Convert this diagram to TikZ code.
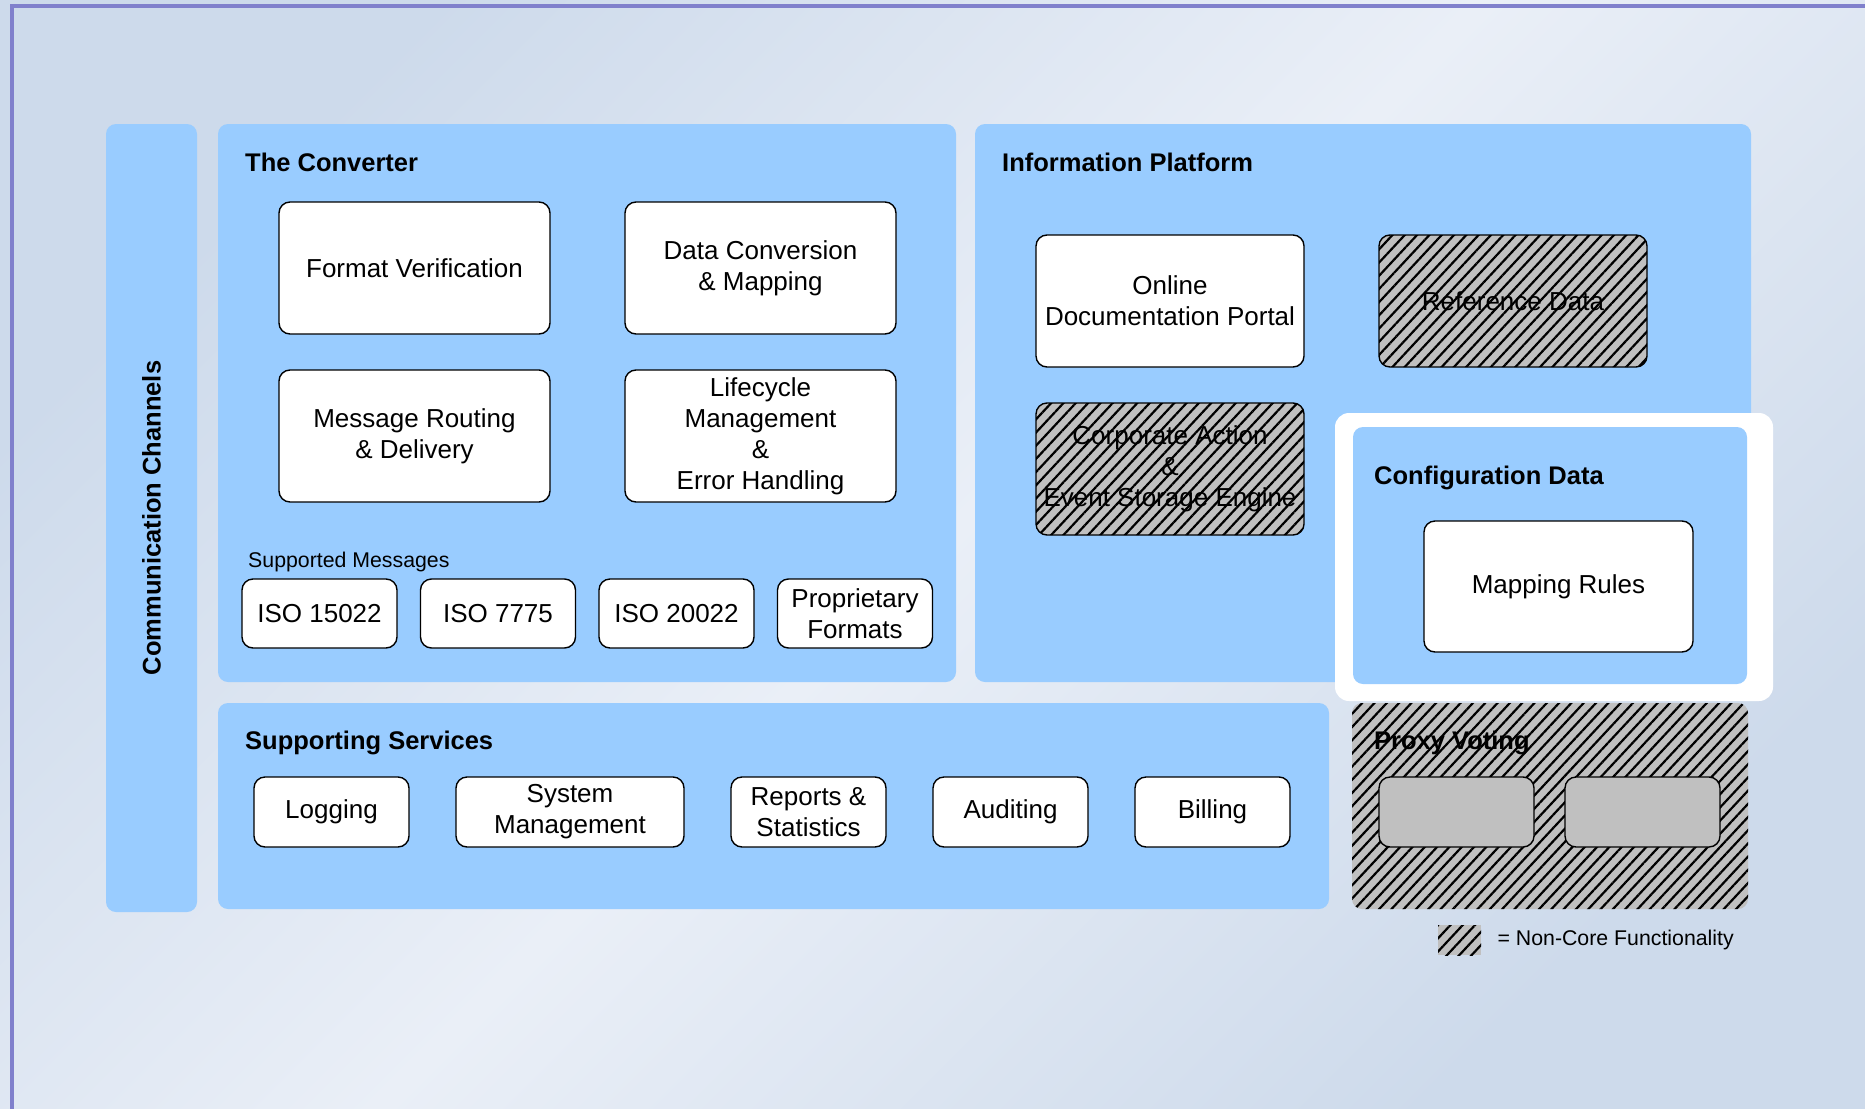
\documentclass[tikz,border=0pt]{standalone}
\usepackage{fontspec}
\setmainfont{Liberation Sans}
\usetikzlibrary{positioning, patterns.meta}

\definecolor{panelblue}{RGB}{153,204,255}
\definecolor{hatchgray}{RGB}{192,192,192}
\definecolor{bgdark}{RGB}{205,218,235}
\definecolor{bglight}{RGB}{234,239,247}
\definecolor{framepurple}{RGB}{128,128,204}

\newcommand{\blockfont}{\fontsize{26}{31}\selectfont}
\newcommand{\panelheadfont}{\fontsize{25.5}{30}\selectfont\bfseries}
\newcommand{\smallnotefont}{\fontsize{21.3}{25}\selectfont}

\begin{document}
\begin{tikzpicture}[x=1pt, y=-1pt,
    panel/.style={fill=panelblue, rounded corners=10pt, inner sep=0pt, outer sep=0pt, anchor=north west},
    block/.style={draw, line width=1.4pt, fill=white, rounded corners=11pt, align=center,
        font=\blockfont, inner sep=0pt, outer sep=0pt, anchor=north west, minimum width=271pt, minimum height=132pt},
    small block/.style={block, minimum width=155pt, minimum height=69pt},
    noncore/.style={preaction={fill=hatchgray},
        pattern={Lines[angle=47, distance=9pt, line width=2.2pt]}, pattern color=black},
    heading/.style={font=\panelheadfont, anchor=base west, inner sep=0pt}]

    \useasboundingbox (0,0) rectangle (1865,1108);
    \clip (0,0) rectangle (1865,1108);
    \shade[left color=bgdark, right color=bgdark, middle color=bglight, shading angle=45]
        (0,0) rectangle (1865,1108);
    \draw[framepurple, line width=3.5pt] (12,1130) -- (12,6) -- (1890,6);

    % panels
    \node[panel, minimum width=91pt, minimum height=788pt] (comm) at (106,124) {};
    \node[rotate=90, font=\panelheadfont] (commtitle) at (comm.center) {Communication Channels};
    \node[panel, minimum width=738pt, minimum height=558pt] (conv) at (218,124) {};
    \node[heading] (convtitle) at ([xshift=27pt, yshift=-47pt]conv.north west) {The Converter};
    \node[panel, minimum width=776pt, minimum height=558pt] (info) at (975,124) {};
    \node[heading] (infotitle) at ([xshift=27pt, yshift=-47pt]info.north west) {Information Platform};
    \node[panel, fill=white, rounded corners=14pt, minimum width=438pt, minimum height=288pt] (cfgframe) at (1335,413) {};
    \node[panel, minimum width=394pt, minimum height=257pt] (cfg) at (1353,427) {};
    \node[heading] (cfgtitle) at ([xshift=21pt, yshift=-57pt]cfg.north west) {Configuration Data};
    \node[panel, minimum width=1111pt, minimum height=206pt] (supp) at (218,703) {};
    \node[heading] (supptitle) at ([xshift=27pt, yshift=-46pt]supp.north west) {Supporting Services};
    \node[panel, noncore, minimum width=396pt, minimum height=206pt] (proxy) at (1352,703) {};
    \node[heading] (proxytitle) at ([xshift=22pt, yshift=-46pt]proxy.north west) {Proxy Voting};

    % the converter
    \node[block] (fmtver) at (279,202) {Format Verification};
    \node[block, right=75pt of fmtver] (dataconv) {Data Conversion\\\& Mapping};
    \node[block, below=36pt of fmtver] (msgroute) {Message Routing\\\& Delivery};
    \node[block, below=36pt of dataconv] (lifecycle) {Lifecycle\\Management\\\&\\Error Handling};
    \node[font=\smallnotefont, anchor=base west, inner sep=0pt] (suplabel) at (248,567) {Supported Messages};
    \node[small block] (iso15022) at (242,579) {ISO 15022};
    \node[small block, right=23.5pt of iso15022] (iso7775) {ISO 7775};
    \node[small block, right=23.5pt of iso7775] (iso20022) {ISO 20022};
    \node[small block, right=23.5pt of iso20022] (proprietary) {Proprietary\\Formats};

    % information platform
    \node[block, minimum width=268pt] (portal) at (1036,235) {Online\\Documentation Portal};
    \node[block, noncore, minimum width=268pt, right=75pt of portal] (refdata) {Reference Data};
    \node[block, noncore, minimum width=268pt, below=36pt of portal] (corpact) {Corporate Action\\\&\\Event Storage Engine};
    \node[block, minimum width=269pt, minimum height=131pt] (maprules) at (1424,521) {Mapping Rules};

    % supporting services
    \node[small block, minimum height=70pt] (logging) at (254,777) {Logging};
    \node[small block, minimum height=70pt, minimum width=228pt, right=47pt of logging] (sysmgmt) {System\\Management};
    \node[small block, minimum height=70pt, right=47pt of sysmgmt] (reports) {Reports \&\\Statistics};
    \node[small block, minimum height=70pt, right=47pt of reports] (auditing) {Auditing};
    \node[small block, minimum height=70pt, right=47pt of auditing] (billing) {Billing};

    % proxy voting
    \node[small block, fill=hatchgray, minimum height=70pt] (proxya) at (1379,777) {};
    \node[small block, fill=hatchgray, minimum height=70pt, right=31pt of proxya] (proxyb) {};

    % legend
    \node[noncore, anchor=north west, inner sep=0pt, minimum width=43pt, minimum height=30pt] (legendkey) at (1438,925) {};
    \node[font=\smallnotefont, inner sep=0pt, right=16pt of legendkey] (legendtext) {= Non-Core Functionality};

\end{tikzpicture}
\end{document}
